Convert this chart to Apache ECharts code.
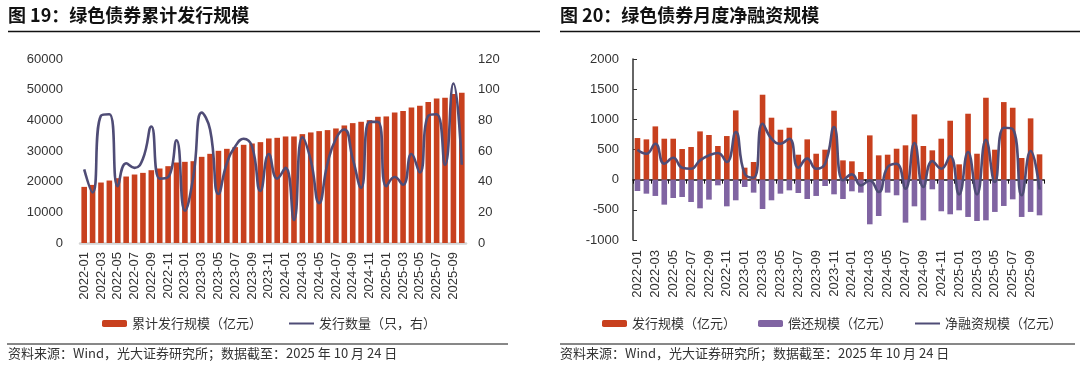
<!DOCTYPE html>
<html>
<head>
<meta charset="utf-8">
<script src="https://cdn.jsdelivr.net/npm/echarts@6/dist/echarts.min.js"></script>
<style>
html,body{margin:0;padding:0;background:#fff;}
#c{width:1080px;height:366px;}
</style>
</head>
<body>
<div id="c"></div>
<script>
var categories = ['2022-01','2022-02','2022-03','2022-04','2022-05','2022-06','2022-07','2022-08','2022-09','2022-10','2022-11','2022-12',
'2023-01','2023-02','2023-03','2023-04','2023-05','2023-06','2023-07','2023-08','2023-09','2023-10','2023-11','2023-12',
'2024-01','2024-02','2024-03','2024-04','2024-05','2024-06','2024-07','2024-08','2024-09','2024-10','2024-11','2024-12',
'2025-01','2025-02','2025-03','2025-04','2025-05','2025-06','2025-07','2025-08','2025-09','2025-10'];

// Figure 19
var cumIssue = [18300,18950,19720,20370,21130,21680,22330,22870,23740,24290,
25050,26250,26470,26680,28100,29080,30060,30710,31260,32020,
32450,32890,34090,34300,34740,34740,35500,36050,36480,36810,
37350,38330,39090,39530,40070,41160,41270,42580,43010,44210,
44750,45950,47150,47370,48560,49000];
var issueCount = [48,33,83,84,37,52,49,55,76,42,
43,67,21,43,85,74,32,52,63,68,
63,34,58,42,49,15,69,54,26,52,
68,74,55,36,79,79,37,43,38,58,
46,83,84,51,104,51];

// Figure 20
var issuance = [690,668,883,679,679,508,541,800,740,558,
723,1148,199,293,1408,1027,828,861,414,668,
430,497,1143,320,304,127,734,403,414,513,
569,1082,558,486,679,977,254,1093,430,1358,
497,1286,1192,359,1016,420];
var repayment = [-188,-232,-270,-414,-304,-287,-370,-475,-331,-94,
-442,-342,-121,-215,-486,-342,-232,-177,-221,-320,
-270,-105,-243,-320,-193,-215,-740,-602,-215,-259,
-712,-442,-674,-160,-524,-574,-508,-618,-685,-674,
-535,-436,-326,-618,-535,-591];
var netFinancing = [497,430,596,265,364,199,182,320,403,442,
293,789,99,33,927,679,596,679,199,348,
182,265,872,-11,88,-94,-11,-204,210,265,
-149,607,-121,309,182,386,-243,458,-243,662,
-39,861,840,-259,475,-166];

var title19 = '图 19：绿色债券累计发行规模';
var title20 = '图 20：绿色债券月度净融资规模';
var source = '资料来源：Wind，光大证券研究所；数据截至：2025 年 10 月 24 日';

var RED = '#C8401E', PURPLE = '#8064A2', LINE = '#4F4C76';
var LATIN = '"Liberation Sans", Arial, sans-serif';
var CJK = '"Noto Sans CJK SC", sans-serif';
var TXT = '#333333';
function plain(v){ return String(v); }

var chart = echarts.init(document.getElementById('c'), null, {renderer:'canvas'});
var option = {
  animation: false,
  backgroundColor: '#fff',
  textStyle: {fontFamily: CJK},
  grid: [
    {left: 80, top: 59, width: 386, height: 184},
    {left: 633, top: 59, width: 411, height: 181}
  ],
  legend: [
    {
      data: ['累计发行规模（亿元）', {name: '发行数量（只，右）', itemStyle: {opacity: 0}}],
      left: 97, top: 312, itemWidth: 25, itemHeight: 7, itemGap: 26,
      textStyle: {fontFamily: CJK, fontSize: 13, color: TXT}
    },
    {
      data: ['发行规模（亿元）', '偿还规模（亿元）', {name: '净融资规模（亿元）', itemStyle: {opacity: 0}}],
      left: 597, top: 312, itemWidth: 25, itemHeight: 7, itemGap: 22,
      textStyle: {fontFamily: CJK, fontSize: 13, color: TXT}
    }
  ],
  xAxis: [
    {
      type: 'category', gridIndex: 0, data: categories,
      axisLine: {lineStyle: {color: '#d4d4d4', width: 2.5}},
      axisTick: {show: false},
      axisLabel: {interval: 1, rotate: 90, fontFamily: LATIN, fontSize: 13, color: TXT, margin: 9}
    },
    {
      type: 'category', gridIndex: 1, data: categories,
      axisLine: {show: false, onZero: false},
      axisTick: {show: false},
      axisLabel: {interval: 1, rotate: 90, fontFamily: LATIN, fontSize: 13, color: TXT, margin: 10}
    },
    {
      type: 'category', gridIndex: 1, data: categories,
      axisLine: {onZero: true, lineStyle: {color: '#111', width: 1.5}},
      axisTick: {show: true, inside: true, length: 4, interval: 1, lineStyle: {color: '#111'}},
      axisLabel: {show: false}
    }
  ],
  yAxis: [
    {
      type: 'value', gridIndex: 0, min: 0, max: 60000, interval: 10000,
      axisLine: {show: false}, axisTick: {show: false}, splitLine: {show: false},
      axisLabel: {fontFamily: LATIN, fontSize: 13, color: TXT, margin: 17, formatter: plain}
    },
    {
      type: 'value', gridIndex: 0, position: 'right', min: 0, max: 120, interval: 20,
      axisLine: {show: false}, axisTick: {show: false}, splitLine: {show: false},
      axisLabel: {fontFamily: LATIN, fontSize: 13, color: TXT, margin: 12, formatter: plain}
    },
    {
      type: 'value', gridIndex: 1, min: -1000, max: 2000, interval: 500,
      axisLine: {show: true, lineStyle: {color: '#333', width: 1.5}},
      axisTick: {show: true, inside: true, length: 4, lineStyle: {color: '#333'}},
      splitLine: {show: false},
      axisLabel: {fontFamily: LATIN, fontSize: 13, color: TXT, margin: 14, formatter: plain}
    }
  ],
  series: [
    {
      name: '累计发行规模（亿元）', type: 'bar', xAxisIndex: 0, yAxisIndex: 0,
      data: cumIssue, barWidth: 5.6, itemStyle: {color: RED}
    },
    {
      name: '发行数量（只，右）', type: 'line', xAxisIndex: 0, yAxisIndex: 1,
      data: issueCount, smooth: 0.5, symbol: 'none',
      lineStyle: {color: LINE, width: 2.6}, itemStyle: {color: LINE}
    },
    {
      name: '发行规模（亿元）', type: 'bar', xAxisIndex: 1, yAxisIndex: 2,
      data: issuance, barWidth: 5.6, barGap: '-100%', itemStyle: {color: RED}
    },
    {
      name: '偿还规模（亿元）', type: 'bar', xAxisIndex: 1, yAxisIndex: 2,
      data: repayment, barWidth: 5.6, barGap: '-100%', itemStyle: {color: PURPLE}
    },
    {
      name: '净融资规模（亿元）', type: 'line', xAxisIndex: 1, yAxisIndex: 2,
      data: netFinancing, smooth: 0.5, symbol: 'none', z: 5,
      lineStyle: {color: LINE, width: 2.6}, itemStyle: {color: LINE}
    }
  ],
  graphic: [
    {type: 'text', left: 8, top: 6, style: {text: title19, font: 'bold 18px "Noto Sans CJK SC", sans-serif', fill: '#111'}},
    {type: 'text', left: 560, top: 6, style: {text: title20, font: 'bold 18px "Noto Sans CJK SC", sans-serif', fill: '#111'}},
    {type: 'line', shape: {x1: 8, y1: 31.5, x2: 540, y2: 31.5}, style: {stroke: '#111', lineWidth: 1.5}},
    {type: 'line', shape: {x1: 560, y1: 31.5, x2: 1080, y2: 31.5}, style: {stroke: '#111', lineWidth: 1.5}},
    {type: 'line', shape: {x1: 7, y1: 344, x2: 508, y2: 344}, style: {stroke: '#111', lineWidth: 1}},
    {type: 'line', shape: {x1: 560, y1: 344, x2: 1075, y2: 344}, style: {stroke: '#111', lineWidth: 1}},
    {type: 'text', left: 8, top: 347, style: {text: source, font: '13px "Noto Sans CJK SC", sans-serif', fill: TXT}},
    {type: 'text', left: 560, top: 347, style: {text: source, font: '13px "Noto Sans CJK SC", sans-serif', fill: TXT}}
  ]
};
chart.setOption(option);
</script>
</body>
</html>
